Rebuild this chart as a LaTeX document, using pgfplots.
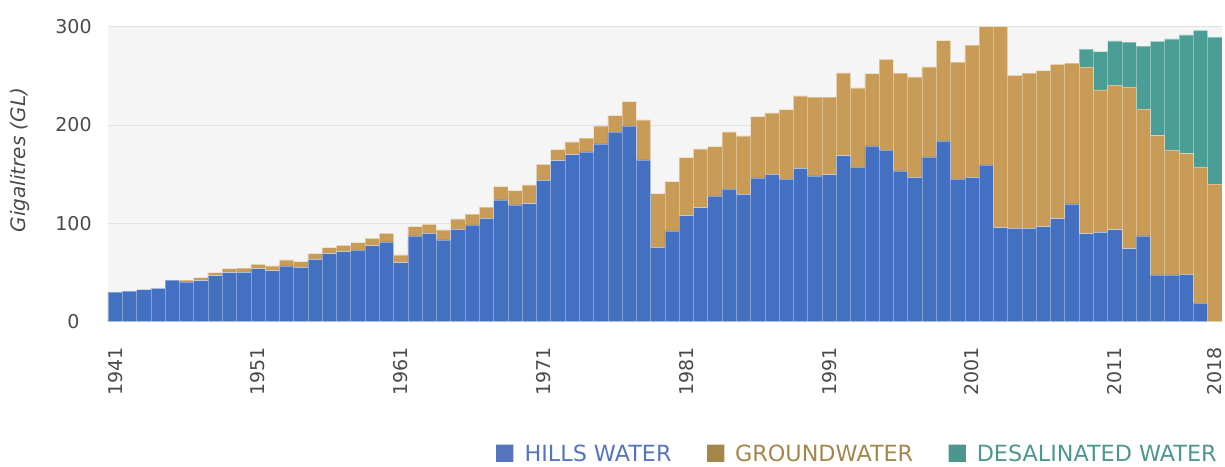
\documentclass[border=0pt]{standalone}
\usepackage{pgfplots}
\pgfplotsset{compat=1.18}
\usepackage{pgfplotstable}
\usepackage{fontspec}
\setmainfont{DejaVu Sans}
\definecolor{hills}{HTML}{4470C1}
\definecolor{ground}{HTML}{C89B56}
\definecolor{desal}{HTML}{4A9E95}
\definecolor{bgc}{HTML}{F5F5F5}
\definecolor{gridc}{HTML}{E3E3E3}
\definecolor{tickc}{HTML}{4A4A4A}
\definecolor{hillsL}{HTML}{5674BE}
\definecolor{groundL}{HTML}{A4864A}
\definecolor{desalL}{HTML}{4D968F}
\pgfplotstableread{
year hills ground desal
1941 30 0 0
1942 31 0 0
1943 32.5 0 0
1944 34 0 0
1945 42.4 0 0
1946 40.4 2 0
1947 41.7 3.1 0
1948 46.8 3.1 0
1949 49.9 4 0
1950 50.2 4.4 0
1951 53.9 4.5 0
1952 51.9 4.8 0
1953 56.7 6.1 0
1954 55.3 5.7 0
1955 63.5 5.7 0
1956 69.2 6.1 0
1957 71.2 6.5 0
1958 72.9 7.5 0
1959 77.3 7.5 0
1960 81.2 8.5 0
1961 60 7.9 0
1962 87.2 9.5 0
1963 89.9 9.2 0
1964 83.1 10.2 0
1965 94 10.5 0
1966 98.4 10.9 0
1967 105.2 11.2 0
1968 123.8 13.5 0
1969 118.7 14.6 0
1970 120 19.1 0
1971 143.8 16.3 0
1972 163.8 11.2 0
1973 169.9 12.9 0
1974 172.6 14 0
1975 180.8 18.3 0
1976 192.7 16.9 0
1977 199.1 24.7 0
1978 164.5 40.7 0
1979 75.7 54.5 0
1980 92.3 50.1 0
1981 107.8 59 0
1982 116 59.7 0
1983 127.9 50.1 0
1984 134.7 58.3 0
1985 129.6 59.3 0
1986 146.2 62.3 0
1987 149.9 62.4 0
1988 144.9 70.8 0
1989 156 73.6 0
1990 148.2 80.1 0
1991 149.5 78.8 0
1992 168.9 84.1 0
1993 157.1 80.6 0
1994 178.7 73.6 0
1995 174.4 92.5 0
1996 153.3 99.4 0
1997 146.9 102 0
1998 167.5 91.6 0
1999 183.8 102.1 0
2000 144.9 119 0
2001 146.9 134.3 0
2002 159.4 140.6 0
2003 95.6 204.4 0
2004 95 155.6 0
2005 95 157.7 0
2006 96.7 158.7 0
2007 104.8 157 0
2008 119.7 143.2 0
2009 89.5 169.6 18
2010 90.9 144.8 39
2011 93.6 146.9 45.1
2012 74.3 164.5 45.4
2013 87.2 128.9 64.1
2014 47.5 142.1 95.6
2015 47.5 126.9 113.2
2016 48.2 123.1 120.4
2017 19 138.4 138.9
2018 0 139.8 149.5
}\datatable
\begin{document}
\begin{tikzpicture}
\begin{axis}[
  scale only axis, width=1114pt, height=295pt,
  xmin=1940.5, xmax=2018.5, ymin=0, ymax=300,
  ybar stacked, bar width=14.28pt,
  axis background/.style={fill=bgc},
  axis line style={draw=none},
  major tick length=0pt,
  ymajorgrids, grid style={color=gridc, line width=1pt},
  ytick={0,100,200,300},
  xtick={1941,1951,1961,1971,1981,1991,2001,2011,2018},
  /pgf/number format/1000 sep={},
  /pgf/number format/assume math mode=true,
  ticklabel style={font=\fontsize{19}{22}\selectfont, color=tickc},
  xticklabel style={yshift=-25pt, rotate=90, anchor=east, inner sep=0pt},
  yticklabel style={anchor=center, inner sep=0pt, xshift=-34.5pt},
  ylabel={Gigalitres (GL)},
  ylabel style={font=\fontsize{20}{24}\selectfont\itshape, color=tickc, at={(axis description cs:0,0.548)}, anchor=center, xshift=0pt, yshift=88pt},
  legend columns=3,
  legend style={at={(axis description cs:1,0)}, anchor=east, yshift=-132pt, draw=none, fill=none,
    font=\fontsize{22.3}{25}\selectfont,
    /tikz/every odd column/.append style={column sep=9pt},
    /tikz/every even column/.append style={column sep=33pt}},
  every axis plot/.append style={draw=white, draw opacity=0.35, line width=0.6pt},
]
\addplot[fill=hills, legend image code/.code={\fill[hillsL] (0pt,-8pt) rectangle (17pt,9pt);}] table[x=year, y=hills] {\datatable};
\addlegendentry{\textcolor{hillsL}{HILLS WATER}}
\addplot[fill=ground, legend image code/.code={\fill[groundL] (0pt,-8pt) rectangle (17pt,9pt);}] table[x=year, y=ground] {\datatable};
\addlegendentry{\textcolor{groundL}{GROUNDWATER}}
\addplot[fill=desal, legend image code/.code={\fill[desalL] (0pt,-8pt) rectangle (17pt,9pt);}] table[x=year, y=desal] {\datatable};
\addlegendentry{\textcolor{desalL}{DESALINATED WATER}}
\end{axis}
\pgfresetboundingbox
\path[use as bounding box] (-108pt,-144.3pt) rectangle (1117pt,321.7pt);
\end{tikzpicture}
\end{document}
